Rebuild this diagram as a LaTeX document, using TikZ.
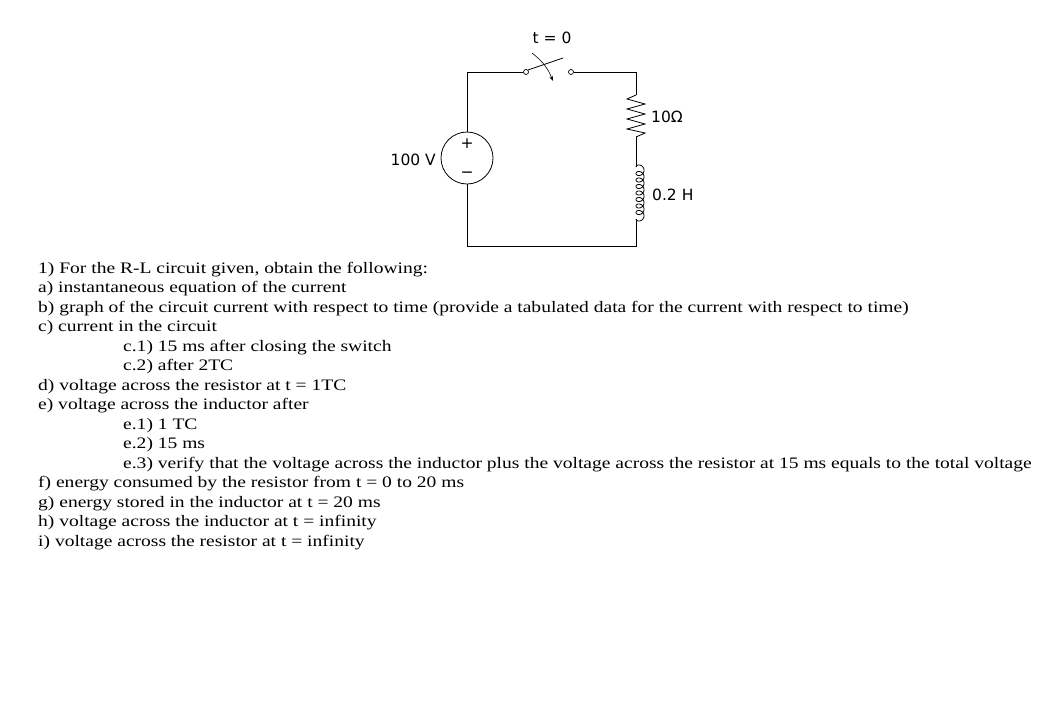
\documentclass[tikz,border=0pt]{standalone}
\usepackage{fontspec}
\setmainfont[FakeStretch=1.22]{Liberation Serif}
\newfontfamily\circfont{DejaVu Sans}
\usetikzlibrary{arrows.meta}
\begin{document}
\begin{tikzpicture}[x=1pt,y=-1pt,
  wire/.style={line width=0.8pt},
  term/.style={circle,draw,inner sep=0pt,minimum size=5pt,line width=0.7pt},
  clab/.style={font=\circfont\fontsize{15.5}{17}\selectfont,inner sep=0pt},
  qline/.style={font=\fontsize{16}{18}\selectfont,anchor=base west,inner sep=0pt}]
\useasboundingbox (0,0) rectangle (1059,726);
\coordinate (tl) at (467,72);
\coordinate (tr) at (636,72);
\coordinate (bl) at (467,246);
\coordinate (br) at (636,246);
\node[circle,draw,line width=0.8pt,minimum size=52pt,inner sep=0pt] (src) at (467,158) {};
\node[clab] at (467,144) {+};
\node[clab] at (467,175) {−};
\node[term] (s1) at (526,72) {};
\node[term] (s2) at (571,72) {};
\coordinate (r1) at (636,95);
\coordinate (r2) at (636,137);
\coordinate (l1) at (636,167);
\coordinate (l2) at (636,219);
\draw[wire] (src.north) -- (tl) -- (s1.west);
\draw[wire] (s2.east) -- (tr) -- (r1);
\draw[wire] (s1.north east) -- (563,58);
\draw[wire] (r1) -- (627,99) -- (645,104) -- (627,109) -- (645,114) -- (627,119) -- (645,124) -- (627,129) -- (645,133) -- (r2);
\draw[wire] (r2) -- (l1);
\draw[wire,smooth,samples=400,domain=0:8,variable=\s] plot ({640-4*cos(360*\s)},{167+6.5*\s-3.5*sin(360*\s)});
\draw[wire] (l2) -- (br) -- (bl) -- (src.south);
\draw[line width=0.6pt,-{Stealth[length=5pt]}] (532,53) to[bend left=15] (553,81);
\node[clab] at (552,38) {t = 0};
\node[clab,anchor=west] at (651,117) {10Ω};
\node[clab,anchor=west] at (652,195) {0.2 H};
\node[clab,anchor=east] at (436,160) {100 V};
\foreach \t [count=\k] in {
 {1) For the R-L circuit given, obtain the following:},
 {a) instantaneous equation of the current},
 {b) graph of the circuit current with respect to time (provide a tabulated data for the current with respect to time)},
 {c) current in the circuit},
 {\hspace*{85pt}c.1) 15 ms after closing the switch},
 {\hspace*{85pt}c.2) after 2TC},
 {d) voltage across the resistor at t = 1TC},
 {e) voltage across the inductor after},
 {\hspace*{85pt}e.1) 1 TC},
 {\hspace*{85pt}e.2) 15 ms},
 {\hspace*{85pt}e.3) verify that the voltage across the inductor plus the voltage across the resistor at 15 ms equals to the total voltage},
 {f) energy consumed by the resistor from t = 0 to 20 ms},
 {g) energy stored in the inductor at t = 20 ms},
 {h) voltage across the inductor at t = infinity},
 {i) voltage across the resistor at t = infinity}}
 \node[qline] (q\k) at (38,{273+19.5*(\k-1)}) {\t};
\end{tikzpicture}
\end{document}
